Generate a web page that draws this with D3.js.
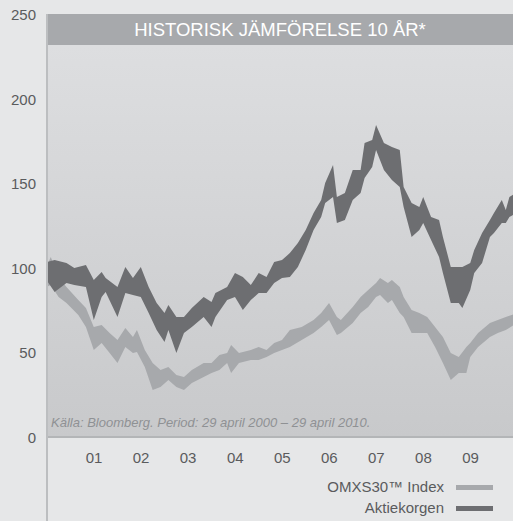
<!DOCTYPE html>
<html>
<head>
<meta charset="utf-8">
<style>
body { margin: 0; background: #e6e7e8; }
svg { display: block; font-family: "Liberation Sans", Arial, sans-serif; }
.axis .domain { display: none; }
.axis text { fill: #5a5b5d; font-size: 15px; }
</style>
</head>
<body>
<svg id="chart" width="513" height="521"></svg>
<script src="https://d3js.org/d3.v7.min.js"></script>
<script>

// OMXS30 Index, band of daily values (high / low)
var omxDates = ["2000-04-29","2000-06","2000-08","2000-10","2001-01","2001-03","2001-05","2001-07","2001-09","2001-11",
  "2002-01","2002-03","2002-04","2002-06","2002-08","2002-10","2002-12","2003-02","2003-04","2003-06",
  "2003-09","2003-11","2004-01","2004-03","2004-04","2004-06","2004-09","2004-11","2005-01","2005-03",
  "2005-05","2005-07","2005-10","2006-01","2006-03","2006-05","2006-07","2006-08","2006-11","2007-01",
  "2007-03","2007-05","2007-06","2007-08","2007-09","2007-11","2007-12","2008-02","2008-04","2008-06",
  "2008-08","2008-10","2008-12","2009-02","2009-04","2009-05","2009-07","2009-10","2009-12","2010-02","2010-04-29"];
var omxHigh = [100.5,106.4,94.6,88.7,81.0,76.2,65.0,66.2,61.5,57.3,
  64.4,59.1,63.2,51.4,43.7,39.6,41.4,36.6,35.5,39.6,
  43.7,43.7,48.5,49.6,54.4,49.6,51.4,53.2,51.4,55.6,
  57.3,63.2,65.0,69.1,73.3,79.2,70.9,69.1,76.8,82.7,
  86.9,91.0,94.0,91.0,92.8,88.7,82.7,75.1,73.3,70.9,
  65.0,59.1,49.6,47.3,53.2,55.6,61.5,67.4,69.1,70.9,73.3];
var omxLow = [88.7,89.8,82.7,79.2,72.1,65.0,51.4,55.6,49.6,43.7,
  53.2,49.6,50.2,41.4,27.8,29.6,33.7,29.6,27.8,31.9,
  35.5,37.8,39.6,43.7,37.8,43.7,45.5,45.5,47.3,49.6,
  51.4,53.2,57.3,61.5,65.0,69.1,60.3,61.5,67.4,73.3,
  76.8,82.7,83.9,79.2,81.0,73.3,70.9,61.5,61.5,61.5,
  53.2,43.7,33.7,37.8,37.8,47.3,53.2,59.1,61.5,63.2,67.4];

// Aktiekorgen
var aktieDates = ["2000-04-29","2000-07","2000-10","2000-12","2001-03","2001-05","2001-07","2001-08","2001-11","2002-01",
  "2002-03","2002-05","2002-07","2002-09","2002-11","2002-12","2003-02","2003-04","2003-06","2003-09",
  "2003-11","2003-12","2004-03","2004-05","2004-07","2004-09","2004-11","2005-01","2005-03","2005-05",
  "2005-07","2005-09","2005-11","2006-01","2006-03","2006-04","2006-06","2006-07","2006-09","2006-11",
  "2007-01","2007-02","2007-04","2007-05","2007-07","2007-09","2007-11","2007-12","2008-02","2008-04",
  "2008-05","2008-07","2008-09","2008-10","2008-12","2009-02","2009-03","2009-05","2009-06","2009-08",
  "2009-10","2009-11","2010-01","2010-02","2010-03","2010-04-29"];
var aktieHigh = [103.4,104.6,102.8,99.9,101.7,92.8,97.5,94.0,88.7,100.5,
  94.0,100.5,88.7,79.2,73.3,78.0,70.9,70.9,76.2,82.7,
  79.8,85.1,88.7,96.9,94.6,89.8,96.9,94.6,103.4,104.6,
  108.7,114.7,122.3,132.4,140.1,150.1,160.8,141.8,144.2,157.8,
  157.8,173.8,175.5,184.4,173.8,171.4,169.6,147.8,138.3,135.9,
  141.8,130.0,128.2,118.2,100.5,100.5,100.5,102.8,110.5,120.6,
  128.2,132.4,140.1,134.2,141.8,144.8];
var aktieLow = [92.8,85.7,91.0,89.8,88.7,69.1,82.7,85.7,70.9,85.1,
  83.9,82.7,73.3,63.2,56.1,63.2,49.6,61.5,65.0,70.9,
  65.0,70.9,81.0,82.7,75.1,81.0,85.1,85.1,91.0,94.0,
  94.6,100.5,110.5,122.3,130.0,138.3,141.8,126.5,128.2,140.1,
  144.2,153.1,159.6,169.6,157.8,151.9,147.8,135.9,118.2,122.3,
  126.5,116.4,106.4,96.9,79.2,79.2,76.2,86.9,96.9,102.8,
  118.2,120.6,126.5,126.5,130.0,132.4];

var yTicks = [0, 50, 100, 150, 200, 250];
var xTickYears = [2001, 2002, 2003, 2004, 2005, 2006, 2007, 2008, 2009];

var svg = d3.select("#chart"),
    mTop = 14, titleH = 31, mBottom = 437, mLeft = 47, mRight = 513;

var parse = function(s) {
  return s.length > 7 ? d3.timeParse("%Y-%m-%d")(s) : d3.timeParse("%Y-%m")(s);
};

var x = d3.scaleTime()
    .domain([new Date(2000, 3, 29), new Date(2010, 3, 29)])
    .range([46.5, 517]);

var y = d3.scaleLinear()
    .domain([0, 250])
    .range([mBottom, mTop]);

// background gradient of the plot
var defs = svg.append("defs");
var grad = defs.append("linearGradient")
    .attr("id", "bg").attr("x1", 0).attr("y1", 0).attr("x2", 0).attr("y2", 1);
grad.append("stop").attr("offset", "0%").attr("stop-color", "#dddee0");
grad.append("stop").attr("offset", "100%").attr("stop-color", "#c8c9cb");

defs.append("clipPath").attr("id", "clip")
  .append("rect")
    .attr("x", mLeft + 1).attr("y", mTop + titleH)
    .attr("width", mRight - mLeft).attr("height", mBottom - mTop - titleH);

svg.append("rect")
    .attr("x", mLeft).attr("y", mTop + titleH)
    .attr("width", mRight - mLeft).attr("height", mBottom - mTop - titleH)
    .attr("fill", "url(#bg)");

// title band
svg.append("rect")
    .attr("x", mLeft).attr("y", mTop)
    .attr("width", mRight - mLeft).attr("height", titleH)
    .attr("fill", "#a7a9ac");
svg.append("text")
    .attr("x", (mLeft + mRight) / 2).attr("y", mTop + 22)
    .attr("text-anchor", "middle")
    .attr("fill", "#fff")
    .attr("font-size", 18.5)
    .text("HISTORISK JÄMFÖRELSE 10 ÅR*");

function band(dates, hi, lo) {
  return dates.map(function(d, i) { return {date: parse(d), hi: hi[i], lo: lo[i]}; });
}

var area = d3.area()
    .x(function(d) { return x(d.date); })
    .y0(function(d) { return y(d.lo); })
    .y1(function(d) { return y(d.hi); });

var plot = svg.append("g").attr("clip-path", "url(#clip)");

plot.append("path")
    .datum(band(omxDates, omxHigh, omxLow))
    .attr("fill", "#a7a9ac")
    .attr("d", area);

plot.append("path")
    .datum(band(aktieDates, aktieHigh, aktieLow))
    .attr("fill", "#6d6e71")
    .attr("d", area);

// source note
svg.append("text")
    .attr("x", 51).attr("y", 427)
    .attr("fill", "#8f9194")
    .attr("font-size", 13)
    .attr("font-style", "italic")
    .text("Källa: Bloomberg. Period: 29 april 2000 – 29 april 2010.");

// baseline and left rule
svg.append("line")
    .attr("x1", mLeft).attr("x2", mRight)
    .attr("y1", y(0)).attr("y2", y(0))
    .attr("stroke", "#b3b5b7").attr("stroke-width", 2);
svg.append("line")
    .attr("x1", mLeft).attr("x2", mLeft)
    .attr("y1", mTop).attr("y2", 521)
    .attr("stroke", "#bcbec0").attr("stroke-width", 2);

svg.append("g")
    .attr("class", "axis")
    .attr("transform", "translate(" + mLeft + ",0)")
    .call(d3.axisLeft(y).tickValues(yTicks).tickSize(0).tickPadding(11))
    .selectAll("text").attr("dy", "0.36em");

svg.append("g")
    .attr("class", "axis")
    .attr("transform", "translate(0," + mBottom + ")")
    .call(d3.axisBottom(x)
      .tickValues(xTickYears.map(function(yr) { return new Date(yr, 3, 29); }))
      .tickFormat(d3.timeFormat("%y"))
      .tickSize(0).tickPadding(15));

// legend
var legend = [
  {name: "OMXS30™ Index", color: "#a7a9ac"},
  {name: "Aktiekorgen", color: "#6d6e71"}
];
var lg = svg.append("g").selectAll("g")
    .data(legend).enter().append("g")
    .attr("transform", function(d, i) { return "translate(0," + (492 + i * 21) + ")"; });
lg.append("text")
    .attr("x", 444)
    .attr("text-anchor", "end")
    .attr("fill", "#5a5b5d")
    .attr("font-size", 15)
    .text(function(d) { return d.name; });
lg.append("rect")
    .attr("x", 456).attr("y", -7)
    .attr("width", 37).attr("height", 5)
    .attr("fill", function(d) { return d.color; });

</script>
</body>
</html>
